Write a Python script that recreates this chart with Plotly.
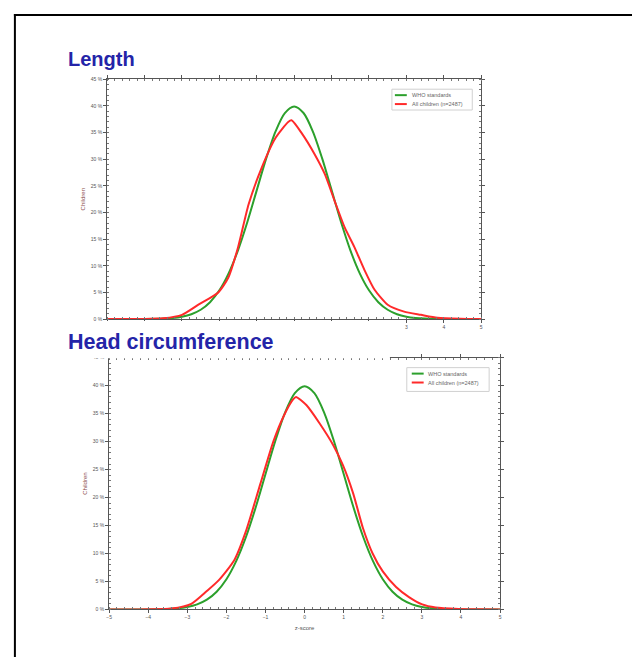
import plotly.graph_objects as go

# ---------------- data ----------------
z_who = [-5, -4.5, -4, -3.5, -3.25, -3, -2.75, -2.5, -2.25, -2, -1.75, -1.5, -1.25, -1,
         -0.75, -0.5, -0.25, 0, 0.25, 0.5, 0.75, 1, 1.25, 1.5, 1.75, 2, 2.25, 2.5,
         2.75, 3, 3.25, 3.5, 4, 4.5, 5]
who_pct = [0, 0, 0.01, 0.09, 0.2, 0.44, 0.91, 1.75, 3.17, 5.4, 8.63, 12.95, 18.26, 24.2,
           30.11, 35.2, 38.67, 39.9, 38.67, 35.2, 30.11, 24.2, 18.26, 12.95, 8.63, 5.4,
           3.17, 1.75, 0.91, 0.44, 0.2, 0.09, 0.01, 0, 0]

z_len = [-5, -4.5, -4, -3.5, -3.0, -2.56, -2.03, -1.76, -1.5, -1.22, -0.87, -0.5, -0.16,
         -0.07, 0.2, 0.55, 0.82, 1.08, 1.35, 1.61, 1.88, 2.15, 2.5, 2.94, 3.39, 3.83,
         4.45, 5]
len_pct = [0, 0, 0.02, 0.15, 0.8, 2.7, 5.0, 7.8, 13.5, 21.5, 28.4, 34.0, 37.0,
           37.3, 34.9, 30.9, 27.2, 22.2, 17.2, 13.5, 9.2, 5.5, 2.7, 1.4, 0.8, 0.25,
           0.05, 0]

z_hc = [-5, -4.5, -4, -3.4, -2.9, -2.5, -2.2, -1.8, -1.5, -1.13, -0.8, -0.54, -0.29,
        -0.22, 0.05, 0.39, 0.73, 0.98, 1.24, 1.49, 1.74, 2.0, 2.34, 2.67, 3.01, 3.35,
        3.94, 4.5, 5]
hc_pct = [0, 0, 0.02, 0.15, 1.0, 3.3, 5.2, 8.8, 14.0, 22.5, 30.0, 34.5, 37.6,
          38.0, 36.5, 33.2, 29.4, 25.8, 20.8, 14.6, 10.0, 6.8, 4.0, 2.2, 0.9, 0.35,
          0.1, 0.02, 0]

y_ticks = [0, 5, 10, 15, 20, 25, 30, 35, 40, 45]
y_tick_labels = [f"{v} %" for v in y_ticks]
x_ticks = [-5, -4, -3, -2, -1, 0, 1, 2, 3, 4, 5]

series_names = ["WHO standards", "All children (n=2487)"]
titles = ["Length", "Head circumference"]

GREEN = "#2ca02c"
RED = "#ff2a2a"
W, H = 634, 660
FONT = "Liberation Sans, Arial, sans-serif"


def px(x):
    return x / W


def py(y):
    return 1 - y / H


fig = go.Figure()

fig.add_trace(go.Scatter(x=z_who, y=who_pct, mode="lines", name=series_names[0],
                         line=dict(color=GREEN, width=2, shape="spline", smoothing=0.8),
                         xaxis="x", yaxis="y"))
fig.add_trace(go.Scatter(x=z_len, y=len_pct, mode="lines", name=series_names[1],
                         line=dict(color=RED, width=2, shape="spline", smoothing=0.6),
                         xaxis="x", yaxis="y"))
fig.add_trace(go.Scatter(x=z_who, y=who_pct, mode="lines", name=series_names[0],
                         line=dict(color=GREEN, width=2, shape="spline", smoothing=0.8),
                         xaxis="x2", yaxis="y2"))
fig.add_trace(go.Scatter(x=z_hc, y=hc_pct, mode="lines", name=series_names[1],
                         line=dict(color=RED, width=2, shape="spline", smoothing=0.6),
                         xaxis="x2", yaxis="y2"))

tickfont = dict(family=FONT, size=5, color="#555555")
axis_common = dict(showline=True, linecolor="#555555", linewidth=1, mirror="allticks",
                   ticks="outside", ticklen=3, tickcolor="#555555", showgrid=False,
                   zeroline=False, tickfont=tickfont)
minor_x = dict(dtick=0.2, ticks="inside", ticklen=2, tickcolor="#777777")
minor_y = dict(dtick=1, ticks="inside", ticklen=2, tickcolor="#777777")
ytitle = dict(text="Children", font=dict(size=6, color="#8a4a4a", family=FONT), standoff=4)

fig.update_layout(
    width=W, height=H,
    margin=dict(l=0, r=0, t=0, b=0),
    paper_bgcolor="white", plot_bgcolor="white",
    showlegend=False,
    xaxis=dict(domain=[px(105), px(482)], range=[-5, 5], tickvals=x_ticks,
               anchor="y", minor=minor_x, **axis_common),
    yaxis=dict(domain=[py(319), py(77)], range=[0, 45], tickvals=y_ticks,
               ticktext=y_tick_labels, anchor="x", minor=minor_y, title=ytitle,
               **axis_common),
    xaxis2=dict(domain=[px(107), px(501)], range=[-5, 5], tickvals=x_ticks,
                anchor="y2", minor=minor_x,
                title=dict(text="z-score", font=dict(size=6, color="#555555", family=FONT),
                           standoff=6),
                **axis_common),
    yaxis2=dict(domain=[py(612), py(358)], range=[0, 45], tickvals=y_ticks,
                ticktext=y_tick_labels, anchor="x2", minor=minor_y, title=ytitle,
                **axis_common),
)

# white cover band behind the second title (as in the pasted figure)
fig.add_shape(type="rect", xref="paper", yref="paper",
              x0=px(55), x1=px(390), y0=py(358.5), y1=py(321),
              fillcolor="white", line=dict(width=0), layer="above")

# page frame (left and top edges)
fig.add_shape(type="line", xref="paper", yref="paper",
              x0=px(12), x1=px(12), y0=py(11), y1=py(660),
              line=dict(color="black", width=2), layer="above")
fig.add_shape(type="line", xref="paper", yref="paper",
              x0=px(11), x1=px(634), y0=py(12), y1=py(12),
              line=dict(color="black", width=2), layer="above")


# legends drawn as boxes with sample lines and labels
def add_legend(x0, y0, x1, y1, rows_y, line_x0, line_x1, text_x):
    fig.add_shape(type="rect", xref="paper", yref="paper",
                  x0=px(x0), x1=px(x1), y0=py(y1), y1=py(y0),
                  fillcolor="white", line=dict(color="#d0d0d0", width=1), layer="above")
    for ry, col, name in zip(rows_y, [GREEN, RED], series_names):
        fig.add_shape(type="line", xref="paper", yref="paper",
                      x0=px(line_x0), x1=px(line_x1), y0=py(ry), y1=py(ry),
                      line=dict(color=col, width=2), layer="above")
        fig.add_annotation(text=name, xref="paper", yref="paper",
                           x=px(text_x), y=py(ry), xanchor="left", yanchor="middle",
                           showarrow=False, borderpad=0,
                           font=dict(size=5.5, color="#666666", family=FONT))


add_legend(392, 87, 473, 108, [93, 102], 395, 407, 411)
add_legend(407, 368, 490, 392, [374, 383], 412, 424, 427)

fig.add_annotation(text="<b>" + titles[0] + "</b>", xref="paper", yref="paper",
                   x=px(65), y=py(57), xanchor="left", yanchor="middle",
                   showarrow=False, borderpad=0,
                   font=dict(family=FONT, size=20, color="#2424a8"))
fig.add_annotation(text="<b>" + titles[1] + "</b>", xref="paper", yref="paper",
                   x=px(65), y=py(342), xanchor="left", yanchor="middle",
                   showarrow=False, borderpad=0,
                   font=dict(family=FONT, size=21.5, color="#2424a8"))

fig.write_html("out.html")
